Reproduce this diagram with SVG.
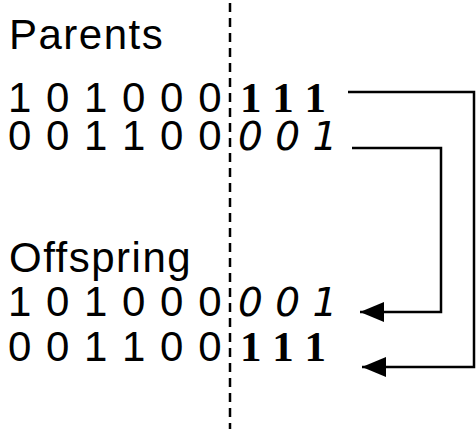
<svg xmlns="http://www.w3.org/2000/svg" width="476" height="429" viewBox="0 0 476 429">
<defs>
<style>
.lbl{font-family:"Liberation Sans",Arial,sans-serif;font-size:42px;letter-spacing:1.5px;fill:#000}
.bits{font-family:"Liberation Sans",Arial,sans-serif;font-size:42px;letter-spacing:1.5px;fill:#000}
.ser{font-family:"Liberation Serif","Times New Roman",serif;font-size:43px;font-weight:bold;fill:#000}
.ital{font-family:"DejaVu Sans",Verdana,sans-serif;font-style:italic;font-size:39px;fill:#000}
.conn{fill:none;stroke:#000;stroke-width:2.5}
.cut{fill:none;stroke:#000;stroke-width:2.5;stroke-dasharray:9 6}
</style>
<marker id="ah" markerWidth="24" markerHeight="20" refX="24" refY="10" orient="auto" markerUnits="userSpaceOnUse">
<path d="M0,0 L24,10 L0,20 Z" fill="#000"/>
</marker>
</defs>
<rect width="476" height="429" fill="#fff"/>
<line class="cut" x1="230" y1="3" x2="230" y2="429"/>
<g id="parents">
<text class="lbl" x="9" y="49">Parents</text>
<text class="bits" x="8" y="112">1 0 1 0 0 0</text>
<text class="ser" x="240" y="112">1 1 1</text>
<text class="bits" x="8" y="150">0 0 1 1 0 0</text>
<text class="ital" x="238" y="150">0 0 1</text>
</g>
<g id="offspring">
<text class="lbl" x="9" y="272">Offspring</text>
<text class="bits" x="8" y="316">1 0 1 0 0 0</text>
<text class="ital" x="238" y="316">0 0 1</text>
<text class="bits" x="8" y="361">0 0 1 1 0 0</text>
<text class="ser" x="240" y="361">1 1 1</text>
</g>
<g id="connectors">
<polyline class="conn" points="348,92 474,92 474,367 362,367" marker-end="url(#ah)"/>
<polyline class="conn" points="352,148 441,148 441,312 360,312" marker-end="url(#ah)"/>
</g>
</svg>
